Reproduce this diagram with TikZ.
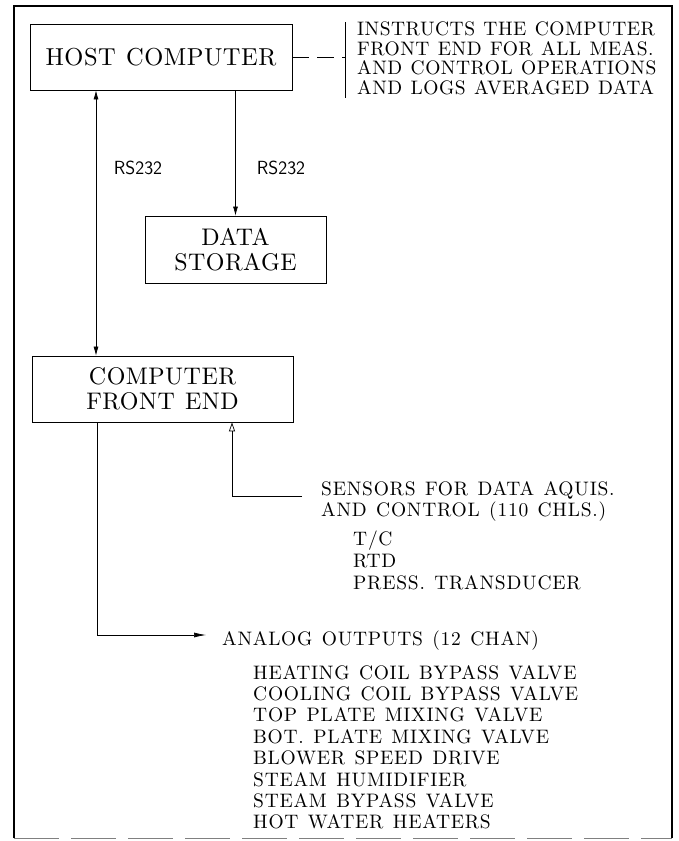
\documentclass[tikz,border=0pt]{standalone}
\usepackage{fontspec}
\newfontfamily\spcbig{lmroman10-regular.otf}[LetterSpace=2,WordSpace=1.2]
\newfontfamily\spcsmall{lmroman10-regular.otf}[LetterSpace=3.8,WordSpace=1.3]
\newfontfamily\spcnote{lmroman10-regular.otf}[LetterSpace=2.5,WordSpace=1.2]
\usetikzlibrary{arrows.meta,calc}
\begin{document}
\begin{tikzpicture}[x=1pt,y=-1pt,
  box/.style={draw,line width=0.8pt,inner sep=0pt,align=center,font=\spcbig\fontsize{24}{28}\selectfont},
  small/.style={inner sep=0pt,anchor=north west,align=left,font=\spcsmall\fontsize{19.5}{21.4}\selectfont},
  rs/.style={inner sep=0pt,font=\sffamily\fontsize{19}{22}\selectfont},
  conn/.style={line width=0.7pt},
  tip/.style={-{Latex[length=9pt,width=5pt]}},
  frame/.style={line width=1.4pt}]
\useasboundingbox (0,0) rectangle (678,841);
% frame
\coordinate (ftl) at (14,6);
\coordinate (ftr) at (672,6);
\coordinate (fbl) at (14,838);
\coordinate (fbr) at (672,838);
\draw[frame] (fbl) -- (ftl) -- (ftr) -- (fbr);
\draw[line width=1pt,gray,dash pattern=on 45pt off 12pt] (fbl) -- (fbr);
% boxes
\node[box,minimum width=262pt,minimum height=66pt,font=\spcbig\fontsize{24.5}{28}\selectfont] (host) at (161,57) {HOST COMPUTER};
\node[box,minimum width=181pt,minimum height=67pt] (ds) at (235.5,249.5) {DATA\\[-3pt]STORAGE};
\node[box,minimum width=261pt,minimum height=66pt] (fe) at (162.5,389) {COMPUTER\\[-3pt]FRONT END};
% annotation
\coordinate (bart) at (345,22);
\coordinate (barb) at (345,98);
\draw[conn] (bart) -- (barb);
\draw[conn,dash pattern=on 17pt off 8pt] (host.east) -- (host.east -| bart);
\node[small,font=\spcnote\fontsize{19.5}{19.4}\selectfont] (note) at (357,22) {INSTRUCTS THE COMPUTER\\FRONT END FOR ALL MEAS.\\AND CONTROL OPERATIONS\\AND LOGS AVERAGED DATA};
% RS232 links
\coordinate (lx) at (96,0);
\draw[conn,{Latex[length=9pt,width=5pt]}-{Latex[length=9pt,width=5pt]}] (host.south -| lx) -- (fe.north -| lx);
\draw[conn,tip] (host.south -| ds.north) -- (ds.north);
\node[rs] (rs1) at (138,168) {RS232};
\node[rs] (rs2) at (281,168) {RS232};
% sensors
\coordinate (sx) at (232,0);
\coordinate (sens) at (302,496);
\draw[conn,-{Triangle[open,length=9pt,width=6pt]}] (sens) -| (fe.south -| sx);
\node[small] (senstxt) at (321,481) {SENSORS FOR DATA AQUIS.\\AND CONTROL (110 CHLS.)};
\node[small,font=\spcsmall\fontsize{19.5}{22}\selectfont] (senslist) at (353,531) {T/C\\RTD\\PRESS. TRANSDUCER};
% analog outputs
\coordinate (ax) at (97,0);
\coordinate (ana) at (206,635);
\draw[conn,-{Latex[length=12pt,width=5pt]}] (fe.south -| ax) |- (ana);
\node[small] (anatxt) at (222,631) {ANALOG OUTPUTS (12 CHAN)};
\node[small] (analist) at (253,665) {HEATING COIL BYPASS VALVE\\COOLING COIL BYPASS VALVE\\TOP PLATE MIXING VALVE\\BOT. PLATE MIXING VALVE\\BLOWER SPEED DRIVE\\STEAM HUMIDIFIER\\STEAM BYPASS VALVE\\HOT WATER HEATERS};
\end{tikzpicture}
\end{document}
